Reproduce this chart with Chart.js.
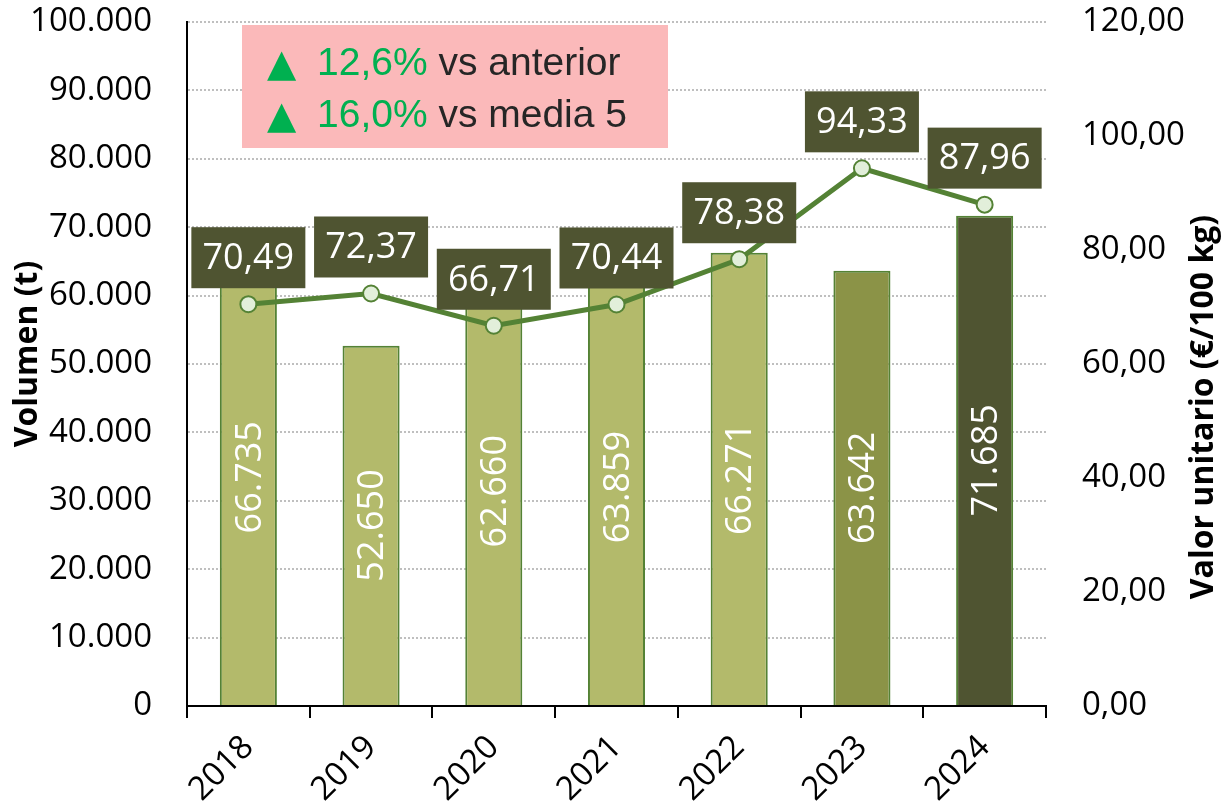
<!DOCTYPE html>
<html>
<head>
<meta charset="utf-8">
<script src="https://cdn.jsdelivr.net/npm/chart.js@4.4.1/dist/chart.umd.min.js"></script>
<style>
  html, body { margin: 0; padding: 0; background: #fff; }
  canvas { display: block; }
</style>
</head>
<body>
<canvas id="chart" width="1224" height="806"></canvas>
<script>
// ── Data ────────────────────────────────────────────────────
const years = ['2018', '2019', '2020', '2021', '2022', '2023', '2024'];
const volume = [66735, 52650, 62660, 63859, 66271, 63642, 71685];      // t
const unitValue = [70.49, 72.37, 66.71, 70.44, 78.38, 94.33, 87.96];   // €/100 kg

// ── Styles ──────────────────────────────────────────────────
const barColors = ['#B3BA6B', '#B3BA6B', '#B3BA6B', '#B3BA6B', '#B3BA6B', '#8B9347', '#4F5431'];
const lineGreen = '#548235';
const boxDark = '#4F5431';
const tickFont = { family: 'Open Sans', size: 33 };

function fmtThousands(n) {
  return String(Math.round(n)).replace(/\B(?=(\d{3})+(?!\d))/g, '.');
}
function fmtDec(n, d) {
  return n.toFixed(d).replace('.', ',');
}

// change vs previous year and vs mean of the 5 years before
const last = volume[volume.length - 1];
const prev = volume[volume.length - 2];
const prev5 = volume.slice(-6, -1);
const mean5 = prev5.reduce((a, b) => a + b, 0) / prev5.length;
const pctPrev = (last / prev - 1) * 100;
const pctMean = (last / mean5 - 1) * 100;

// ── Labels, note box, axis titles ───────────────────────────
const labelPlugin = {
  id: 'labels',
  afterDatasetsDraw(chart) {
    const ctx = chart.ctx;
    ctx.save();
    ctx.textAlign = 'center';
    ctx.textBaseline = 'middle';

    // bar values, rotated, centred in each bar
    ctx.font = '36px "Open Sans"';
    ctx.fillStyle = '#fff';
    chart.getDatasetMeta(1).data.forEach((bar, i) => {
      ctx.save();
      ctx.translate(bar.x + 2, (bar.y + bar.base) / 2);
      ctx.rotate(-Math.PI / 2);
      ctx.fillText(fmtThousands(volume[i]), 0, 0);
      ctx.restore();
    });

    // line values in dark boxes above each point
    chart.getDatasetMeta(0).data.forEach((pt, i) => {
      const w = 114, h = 61, bottom = pt.y - 16;
      ctx.fillStyle = boxDark;
      ctx.fillRect(pt.x - w / 2, bottom - h, w, h);
      ctx.fillStyle = '#fff';
      ctx.fillText(fmtDec(unitValue[i], 2), pt.x, bottom - h / 2 + 1);
    });
    ctx.restore();
  },
  afterDraw(chart) {
    const ctx = chart.ctx;
    const area = chart.chartArea;
    ctx.save();

    // note box
    const bx = area.left + 55, by = area.top + 3;
    ctx.fillStyle = '#FBB9BA';
    ctx.fillRect(bx, by, 426, 123);
    ctx.textBaseline = 'alphabetic';
    ctx.textAlign = 'left';
    const rows = [
      [fmtDec(pctPrev, 1) + '%', ' vs anterior', by + 50],
      [fmtDec(pctMean, 1) + '%', ' vs media 5', by + 102]
    ];
    rows.forEach(([pct, rest, y]) => {
      let x = bx + 26;
      ctx.fillStyle = '#00B050';
      ctx.font = '38px "DejaVu Sans"';
      ctx.fillText('▲', x - 1, y + 1);
      x += 49;
      ctx.font = '39px "Liberation Sans"';
      ctx.fillText(pct, x, y);
      x += ctx.measureText(pct).width;
      ctx.fillStyle = '#262626';
      ctx.fillText(rest, x, y);
    });

    // axis titles
    ctx.font = 'bold 32px "Open Sans"';
    ctx.fillStyle = '#000';
    ctx.textAlign = 'center';
    ctx.textBaseline = 'middle';
    ctx.save();
    ctx.translate(28, 354);
    ctx.rotate(-Math.PI / 2);
    ctx.fillText('Volumen (t)', 0, 0);
    ctx.restore();
    ctx.save();
    ctx.translate(1204, 407);
    ctx.rotate(-Math.PI / 2);
    ctx.fillText('Valor unitario (€/100 kg)', 0, 0);
    ctx.restore();

    ctx.restore();
  }
};

// ── Chart ───────────────────────────────────────────────────
new Chart(document.getElementById('chart').getContext('2d'), {
  type: 'bar',
  data: {
    labels: years,
    datasets: [
      {
        type: 'line',
        label: 'Valor unitario',
        data: unitValue,
        yAxisID: 'y1',
        borderColor: lineGreen,
        borderWidth: 5,
        pointRadius: 8,
        pointBorderWidth: 2,
        pointBackgroundColor: '#E2EFDA',
        pointBorderColor: lineGreen,
        tension: 0,
        order: 0
      },
      {
        type: 'bar',
        label: 'Volumen',
        data: volume,
        yAxisID: 'y',
        backgroundColor: barColors,
        borderColor: lineGreen,
        borderWidth: 2,
        barPercentage: 0.465,
        categoryPercentage: 1,
        order: 1
      }
    ]
  },
  options: {
    responsive: false,
    animation: false,
    layout: { padding: { top: 22, left: 0, right: 0, bottom: 0 } },
    plugins: {
      legend: { display: false },
      tooltip: { enabled: false }
    },
    scales: {
      x: {
        grid: { drawOnChartArea: false, drawTicks: true, tickLength: 12, offset: true, color: '#000', lineWidth: 2 },
        border: { display: true, color: '#000', width: 2 },
        ticks: { font: { family: 'Open Sans', size: 33 }, color: '#000', minRotation: 45, maxRotation: 45, padding: 10 },
        afterFit(scale) { scale.height = 100; scale.paddingLeft = 0; scale.paddingRight = 0; }
      },
      y: {
        position: 'left',
        min: 0, max: 100000,
        ticks: { stepSize: 10000, font: tickFont, color: '#000', padding: 35, callback: v => fmtThousands(v) },
        grid: { color: '#BFBFBF', lineWidth: 2, drawTicks: false },
        border: { display: true, color: '#000', width: 2, dash: [2, 2] },
        afterFit(scale) { scale.width = 187; scale.paddingTop = 0; scale.paddingBottom = 0; }
      },
      y1: {
        position: 'right',
        min: 0, max: 120,
        ticks: { stepSize: 20, font: tickFont, color: '#000', padding: 36, callback: v => fmtDec(v, 2) },
        grid: { display: false, drawTicks: false },
        border: { display: false },
        afterFit(scale) { scale.width = 178; scale.paddingTop = 0; scale.paddingBottom = 0; }
      }
    }
  },
  plugins: [labelPlugin]
});
</script>
</body>
</html>
